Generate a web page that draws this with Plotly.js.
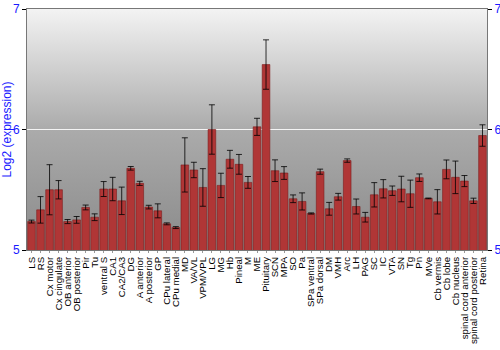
<!DOCTYPE html>
<html>
<head>
<meta charset="utf-8">
<script src="https://cdn.plot.ly/plotly-3.0.1.min.js"></script>
<style>html,body{margin:0;padding:0;background:#fff;}#chart{width:500px;height:350px;}</style>
</head>
<body>
<div id="chart"></div>
<script>
const categories = ["LS","RS","Cx motor","Cx cingulate","OB anterior","OB posterior","Pir","Tu","ventral S","CA1","CA2/CA3","DG","A anterior","A posterior","GP","CPu lateral","CPu medial","MD","VA/VL","VPM/VPL","LG","MG","Hb","Pineal","M","ME","Pituitary","SCN","MPA","SO","Pa","SPa ventral","SPa dorsal","DM","VMH","Arc","LH","PAG","SC","IC","VTA","SN","Tg","Pn","MVe","Cb vermis","Cb lobe","Cb nucleus","spinal cord anterior","spinal cord posterior","Retina"];
const values = [5.236,5.333,5.50,5.50,5.236,5.25,5.353,5.272,5.506,5.506,5.408,5.678,5.553,5.356,5.325,5.217,5.186,5.706,5.664,5.519,6.0,5.536,5.753,5.711,5.561,6.022,6.539,5.658,5.639,5.425,5.403,5.303,5.65,5.342,5.442,5.742,5.361,5.272,5.458,5.508,5.492,5.506,5.467,5.6,5.428,5.4,5.669,5.603,5.572,5.408,5.95];
const errors = [0.012,0.11,0.208,0.076,0.017,0.028,0.02,0.028,0.062,0.097,0.114,0.015,0.017,0.015,0.058,0.008,0.008,0.225,0.064,0.156,0.205,0.101,0.074,0.082,0.049,0.071,0.205,0.09,0.053,0.032,0.071,0.005,0.021,0.053,0.028,0.014,0.062,0.04,0.101,0.076,0.039,0.106,0.113,0.031,0.003,0.101,0.078,0.135,0.046,0.022,0.089];
const yTicks = [5,6,7];
const yTitle = "Log2 (expression)";

const blue = "#1a1aff";
const bgSvg = '<svg xmlns="http://www.w3.org/2000/svg" width="10" height="100" preserveAspectRatio="none"><defs><linearGradient id="g" x1="0" y1="0" x2="0" y2="1"><stop offset="0" stop-color="#f3f3f3"/><stop offset="0.5" stop-color="#ababab"/><stop offset="1" stop-color="#8a8a8a"/></linearGradient></defs><rect width="10" height="100" fill="url(#g)"/></svg>';
const bgUri = "data:image/svg+xml;base64," + btoa(bgSvg);

const traces = [
  {
    type: "bar",
    x: categories,
    y: values,
    base: 0,
    marker: {color: "#b03636", line: {color: "#7d1c1c", width: 0.6}},
    error_y: {type: "data", array: errors, visible: true, color: "rgba(0,0,0,0.8)", thickness: 1, width: 3},
    hoverinfo: "x+y",
    showlegend: false
  },
  {
    type: "scatter",
    x: [categories[0]],
    y: [null],
    yaxis: "y2",
    mode: "markers",
    hoverinfo: "skip",
    showlegend: false
  }
];

const yaxisCommon = {
  range: [5, 7],
  tickvals: yTicks,
  ticktext: yTicks.map(String),
  ticks: "outside",
  ticklen: 4,
  tickcolor: "#000",
  tickfont: {family: "Liberation Sans, Arial, sans-serif", size: 12, color: blue},
  showline: true,
  linecolor: "#777",
  linewidth: 1,
  zeroline: false,
  fixedrange: true
};

const layout = {
  width: 500,
  height: 350,
  margin: {l: 27, r: 13, t: 9, b: 100, pad: 0},
  paper_bgcolor: "#ffffff",
  plot_bgcolor: "rgba(0,0,0,0)",
  bargap: 0.15,
  font: {family: "Liberation Sans, Arial, sans-serif", color: "#000"},
  images: [{
    source: bgUri, xref: "paper", yref: "paper", x: 0, y: 1, sizex: 1, sizey: 1,
    sizing: "stretch", xanchor: "left", yanchor: "top", layer: "below"
  }],
  xaxis: {
    type: "category",
    range: [-0.5, categories.length - 0.5],
    tickmode: "array",
    tickvals: categories,
    ticktext: categories,
    tickangle: -90,
    tickfont: {family: "Liberation Sans, Arial, sans-serif", size: 9.7, color: "#000"},
    ticks: "outside",
    ticklen: 2,
    tickcolor: "#999",
    showline: true,
    mirror: true,
    linecolor: "#777",
    linewidth: 1,
    showgrid: false,
    automargin: false
  },
  yaxis: Object.assign({}, yaxisCommon, {
    side: "left",
    showgrid: true,
    gridcolor: "#f4f4f4",
    gridwidth: 1.5,
    title: {text: yTitle, font: {family: "Liberation Sans, Arial, sans-serif", size: 12, color: blue}, standoff: 4},
    automargin: false
  }),
  yaxis2: Object.assign({}, yaxisCommon, {
    overlaying: "y",
    side: "right",
    showgrid: false,
    anchor: "x"
  })
};

Plotly.newPlot("chart", traces, layout, {displayModeBar: false, staticPlot: true});
</script>
</body>
</html>
